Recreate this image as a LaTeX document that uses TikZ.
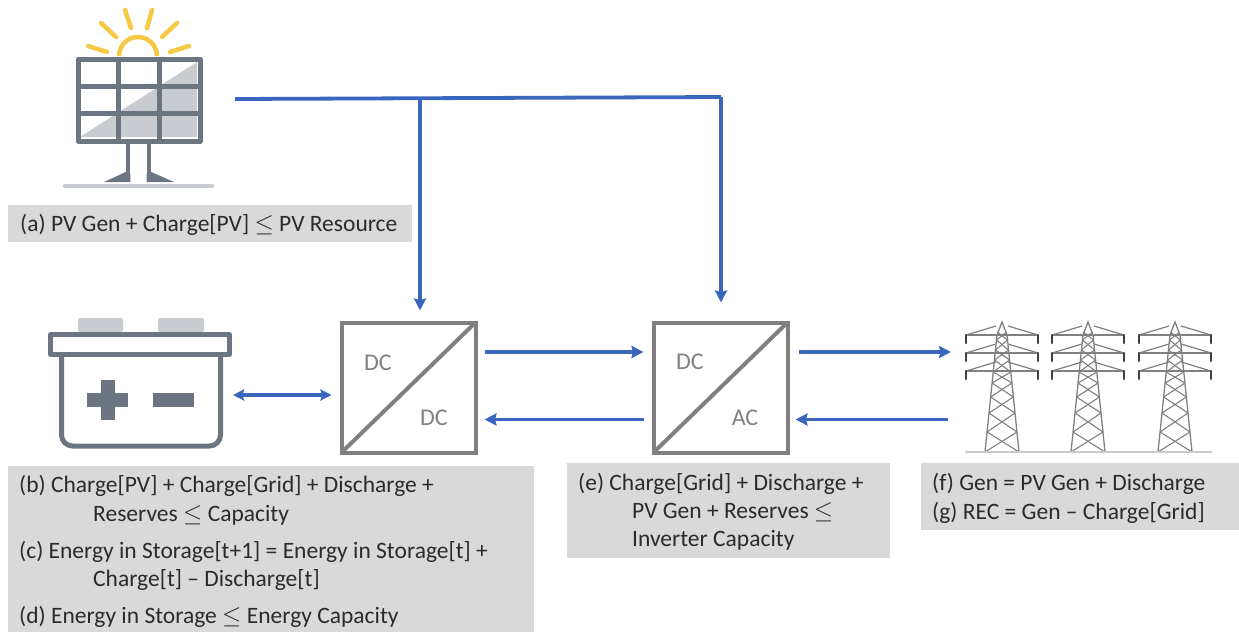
\documentclass[tikz,border=0pt]{standalone}
\usepackage{fontspec}
\setmainfont{Carlito}
\definecolor{linkblue}{HTML}{3B66BE}
\definecolor{iconslate}{HTML}{6B7682}
\definecolor{iconlight}{HTML}{C8CCD0}
\definecolor{sunyellow}{HTML}{F6C945}
\definecolor{boxgrey}{HTML}{D9D9D9}
\definecolor{convgrey}{HTML}{808080}
\definecolor{textdark}{HTML}{2B2B2B}
\usetikzlibrary{arrows.meta}
\begin{document}
\begin{tikzpicture}[
	x=1pt, y=-1pt,
	link/.style={line width=3.8pt, draw=linkblue, -{Stealth[length=12pt,width=12pt,inset=1.5pt]}},
	twolink/.style={line width=3.2pt, draw=linkblue, {Stealth[length=11pt,width=11pt,inset=1.5pt]}-{Stealth[length=11pt,width=11pt,inset=1.5pt]}},
	conv/.style={shape=rectangle, draw=convgrey, line width=4pt, minimum width=134pt, minimum height=130pt, outer sep=0pt},
	convtext/.style={text=convgrey, font=\fontsize{24}{28}\selectfont, inner sep=0pt},
	icon/.style={shape=rectangle, inner sep=0pt, outer sep=0pt},
	greybox/.style={shape=rectangle, fill=boxgrey, inner sep=0pt, outer sep=0pt},
	eqn/.style={anchor=base west, inner sep=0pt, text=textdark, font=\fontsize{23.5}{27}\selectfont},
	slate/.style={draw=iconslate, line width=5pt, line join=round},
	sunray/.style={draw=sunyellow, line width=4.5pt, line cap=round},
	declare function={halfw(\t)=5+12*(\t-335)/117;},
]
\useasboundingbox (0,0) rectangle (1239,632);

\node[greybox, minimum width=404pt, minimum height=37pt] (boxa) at (210,223.5) {};
\node[greybox, minimum width=526pt, minimum height=166pt] (boxb) at (271,549) {};
\node[greybox, minimum width=323pt, minimum height=95pt] (boxe) at (728.5,510.5) {};
\node[greybox, minimum width=318pt, minimum height=67pt] (boxf) at (1080,496.5) {};

\node[eqn] (eqa) at (20,231) {(a) PV Gen + Charge[PV] $\leq$ PV Resource};
\node[eqn] (eqb) at (19,492) {(b) Charge[PV] + Charge[Grid] + Discharge +};
\node[eqn] (eqbb) at (93,521) {Reserves $\leq$ Capacity};
\node[eqn] (eqc) at (19,558) {(c) Energy in Storage[t+1] = Energy in Storage[t] +};
\node[eqn] (eqcc) at (93,586) {Charge[t] -- Discharge[t]};
\node[eqn] (eqd) at (19,623) {(d) Energy in Storage $\leq$ Energy Capacity};
\node[eqn] (eqe) at (578,490) {(e) Charge[Grid] + Discharge +};
\node[eqn] (eqee) at (632,518) {PV Gen + Reserves $\leq$};
\node[eqn] (eqeee) at (632,546) {Inverter Capacity};
\node[eqn] (eqf) at (932,490) {(f) Gen = PV Gen + Discharge};
\node[eqn] (eqg) at (932,519) {(g) REC = Gen -- Charge[Grid]};

\fill[iconlight] (80,137) -- (197,62) -- (197,137) -- cycle;
\draw[sunray, line cap=butt] (119,56) arc (180:360:19);
\draw[slate] (78,59) rectangle (200,141);
\draw[slate] (118,59) -- (118,141);
\draw[slate] (159,59) -- (159,141);
\draw[slate] (78,86) -- (200,86);
\draw[slate] (78,113) -- (200,113);
\draw[iconslate, line width=4.5pt] (128,143) -- (128,174);
\draw[iconslate, line width=4.5pt] (149,143) -- (149,174);
\fill[iconslate] (125.7,172) -- (130.3,174) -- (130.3,182) -- (104,182) -- cycle;
\fill[iconslate] (151.3,172) -- (146.7,174) -- (146.7,182) -- (174,182) -- cycle;
\draw[iconlight, line width=4.5pt, line cap=round] (65,186) -- (212,186);
\draw[sunray] (88,46) -- (107,52);
\draw[sunray] (101,23) -- (116,37);
\draw[sunray] (125,10) -- (131,28);
\draw[sunray] (152,10) -- (147,28);
\draw[sunray] (177,23) -- (162,37);
\draw[sunray] (189,46) -- (170,52);

\fill[iconlight, rounded corners=2pt] (78,332) -- (78,318) -- (123,318) -- (123,332) -- cycle;
\fill[iconlight, rounded corners=2pt] (158,332) -- (158,318) -- (204,318) -- (204,332) -- cycle;
\draw[slate] (50.5,334.5) rectangle (229.5,354);
\draw[slate, rounded corners=11pt] (61.5,354) -- (61.5,446) -- (220.5,446) -- (220.5,354);
\fill[iconslate] (87,393) rectangle (128,407);
\fill[iconslate] (101,380) rectangle (115,420);
\fill[iconslate] (153,393) rectangle (194,407);

\foreach \x in {1002,1088,1175} {
	\foreach \ya/\yb in {452/432,432/413,413/397,397/383,383/372,372/360,360/350,350/340,340/332} {
		\draw[convgrey, line width=1.1pt] ({\x-halfw(\ya)},\ya) -- ({\x+halfw(\yb)},\yb);
		\draw[convgrey, line width=1.1pt] ({\x+halfw(\ya)},\ya) -- ({\x-halfw(\yb)},\yb);
	}
	\draw[convgrey, line width=1.3pt] (\x-17,452) -- (\x-5,335) -- (\x,322) -- (\x+5,335) -- (\x+17,452);
	\foreach \a in {335,353,371} {
		\draw[convgrey, line width=1.2pt] (\x-36,\a) -- (\x+36,\a);
		\draw[convgrey, line width=1.2pt] (\x-36,\a) -- (\x-6,\a-9);
		\draw[convgrey, line width=1.2pt] (\x+36,\a) -- (\x+6,\a-9);
		\draw[black!75, line width=2.4pt, line cap=round] (\x-36,\a) -- (\x-36,\a+8);
		\draw[black!75, line width=2.4pt, line cap=round] (\x+36,\a) -- (\x+36,\a+8);
	}
}
\draw[iconlight, line width=1.8pt] (965,452) -- (1212,452);

\node[icon, minimum width=150pt, minimum height=180pt] (pv) at (138,98) {};
\node[icon, minimum width=184pt, minimum height=130pt] (batt) at (140,395) {};
\node[icon, minimum width=248pt, minimum height=130pt] (grid) at (1089,387.5) {};
\node[conv] (dcdc) at (408.5,387.5) {};
\node[conv] (dcac) at (720.5,387.5) {};
\draw[convgrey, line width=4pt] (dcdc.south west) -- (dcdc.north east);
\draw[convgrey, line width=4pt] (dcac.south west) -- (dcac.north east);
\node[convtext] (dcin) at (378,363) {DC};
\node[convtext] (dcout) at (434,418) {DC};
\node[convtext] (acin) at (690,362) {DC};
\node[convtext] (acout) at (745,418) {AC};

\coordinate (pvout) at (235,99);
\coordinate (pvjoin) at (420,98.2);
\coordinate (pvcorner) at (721,97);
\draw[line width=3.8pt, draw=linkblue] (pvout) -- (pvcorner);
\draw[link, shorten >=12pt] (pvjoin) -- (dcdc.north -| pvjoin);
\draw[link, shorten >=20pt] (pvcorner) -- (dcac.north -| pvcorner);
\draw[twolink] ([xshift=1pt]batt.east) -- ([xshift=-10pt,yshift=-7.5pt]dcdc.west);
\draw[link, shorten <=9pt, shorten >=10pt] ([yshift=35.5pt]dcdc.east) -- ([yshift=35.5pt]dcac.west);
\draw[link, shorten <=10pt, shorten >=9pt] ([yshift=-32pt]dcac.west) -- ([yshift=-32pt]dcdc.east);
\draw[link, shorten <=11pt, shorten >=14pt] ([yshift=35.5pt]dcac.east) -- ([yshift=35.5pt]grid.west);
\draw[link, shorten <=17pt, shorten >=8pt] ([yshift=-32pt]grid.west) -- ([yshift=-32pt]dcac.east);
\end{tikzpicture}
\end{document}
